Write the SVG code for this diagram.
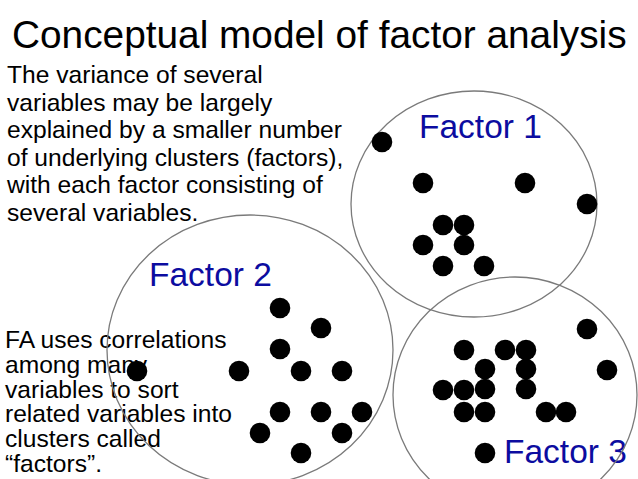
<svg xmlns="http://www.w3.org/2000/svg" width="638" height="479" viewBox="0 0 638 479">
<style>
text{font-family:"Liberation Sans",Arial,sans-serif;fill:#000}
.title{font-size:38.8px}
.body{font-size:24.6px}
.lbl{font-size:33.5px;fill:#0c0ca0}
.ring{fill:none;stroke:#7a7a7a;stroke-width:1.3}
.dot{fill:#000}
</style>
<rect width="638" height="479" fill="#fff"/>
<g id="title"><text class="title" x="12" y="48">Conceptual model of factor analysis</text></g>
<g id="intro-text">
<text class="body" x="7" y="83">The variance of several</text>
<text class="body" x="7" y="110.5">variables may be largely</text>
<text class="body" x="7" y="138">explained by a smaller number</text>
<text class="body" x="7" y="165.5">of underlying clusters (factors),</text>
<text class="body" x="7" y="193">with each factor consisting of</text>
<text class="body" x="7" y="220.5">several variables.</text>
</g>
<g id="fa-text">
<text class="body" x="5" y="348">FA uses correlations</text>
<text class="body" x="5" y="372.5">among many</text>
<text class="body" x="5" y="397.5">variables to sort</text>
<text class="body" x="5" y="422">related variables into</text>
<text class="body" x="5" y="447">clusters called</text>
<text class="body" x="5" y="471.5">“factors”.</text>
</g>
<defs><circle id="d" r="10.3" class="dot"/></defs>
<g id="factor1">
<text class="lbl" x="419" y="138">Factor 1</text>
<ellipse class="ring" cx="474" cy="204" rx="123" ry="113"/>
<use href="#d" x="382" y="142"/><use href="#d" x="423" y="183"/><use href="#d" x="525" y="183"/><use href="#d" x="587" y="204"/>
<use href="#d" x="443" y="225"/><use href="#d" x="464" y="225"/><use href="#d" x="423" y="245"/><use href="#d" x="464" y="245"/>
<use href="#d" x="443" y="266"/><use href="#d" x="484" y="266"/>
</g>
<g id="factor2">
<text class="lbl" x="149" y="286">Factor 2</text>
<ellipse class="ring" cx="250" cy="350" rx="143" ry="135"/>
<use href="#d" x="280" y="308"/><use href="#d" x="321" y="328"/><use href="#d" x="280" y="349"/>
<use href="#d" x="137" y="371"/><use href="#d" x="239" y="371"/><use href="#d" x="301" y="371"/><use href="#d" x="342" y="371"/>
<use href="#d" x="280" y="412"/><use href="#d" x="321" y="412"/><use href="#d" x="362" y="412"/>
<use href="#d" x="260" y="433"/><use href="#d" x="342" y="433"/><use href="#d" x="301" y="453"/>
</g>
<g id="factor3">
<text class="lbl" x="504" y="463">Factor 3</text>
<ellipse class="ring" cx="515" cy="395" rx="122" ry="118"/>
<use href="#d" x="587" y="329"/><use href="#d" x="464" y="350"/><use href="#d" x="505" y="350"/><use href="#d" x="526" y="350"/>
<use href="#d" x="485" y="369"/><use href="#d" x="526" y="369"/><use href="#d" x="607" y="370"/>
<use href="#d" x="443" y="390"/><use href="#d" x="464" y="390"/><use href="#d" x="485" y="389"/><use href="#d" x="526" y="389"/>
<use href="#d" x="464" y="412"/><use href="#d" x="485" y="412"/><use href="#d" x="546" y="412"/><use href="#d" x="566" y="412"/>
<use href="#d" x="485" y="453"/>
</g>
</svg>
